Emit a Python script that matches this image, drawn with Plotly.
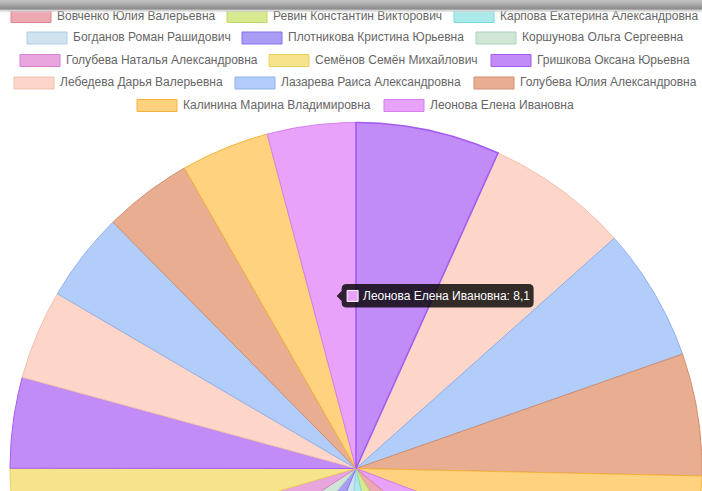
import numpy as np
import plotly.graph_objects as go

# ---- data -------------------------------------------------------------
names = [
    "Сотрудник 1", "Сотрудник 2", "Сотрудник 3",
    "Сотрудник 4", "Сотрудник 5", "Сотрудник 6",
    "Вовченко Юлия Валерьевна", "Ревин Константин Викторович",
    "Карпова Екатерина Александровна", "Богданов Роман Рашидович",
    "Плотникова Кристина Юрьевна", "Коршунова Ольга Сергеевна",
    "Голубева Наталья Александровна", "Семёнов Семён Михайлович",
    "Гришкова Оксана Юрьевна", "Лебедева Дарья Валерьевна",
    "Лазарева Раиса Александровна", "Голубева Юлия Александровна",
    "Калинина Марина Владимировна", "Леонова Елена Ивановна",
]
values = [13.2, 13.1, 12.2, 11.2, 10.6, 10.4, 10.2, 10.0, 9.8, 9.6,
          9.5, 9.3, 9.1, 8.9, 8.3, 8.2, 8.2, 8.1, 8.1, 8.1]

# colour cycle (fill, border), repeated over the slices
fill_cycle = ["#c18cf8", "#fdd6c9", "#b2cdfa", "#e9ae92", "#fed27e", "#e9a2fa",
              "#eda9b1", "#d7e98e", "#abe9ea", "#cfe2f0", "#a99cf5", "#cfe6d6",
              "#e9a5dd", "#f5e48c"]
border_cycle = ["#a45cf0", "#f2bfae", "#8fb0ee", "#d08f70", "#f4b43c", "#d57ff0",
                "#e0848f", "#c0d862", "#7fd8da", "#aecde6", "#8373ea", "#aed3bb",
                "#d77fcb", "#e9d05c"]

hovered = len(names) - 1  # slice with the open tooltip

# ---- layout constants ---------------------------------------------------
W, H = 702, 491
CX, CY, RAD = 356, 468.5, 346
FONT = "Liberation Sans, Arial, Helvetica, sans-serif"

# legend rows: slice indices, row centre y, box left x
legend_rows = [
    ([6, 7, 8], 16.5, [11, 227, 454]),
    ([9, 10, 11], 38.0, [27, 242, 476]),
    ([12, 13, 14], 60.5, [20, 269, 491]),
    ([15, 16, 17], 83.0, [14, 235, 474]),
    ([18, 19], 105.5, [137, 384]),
]

fig = go.Figure()

# ---- pie slices, clockwise from 12 o'clock -------------------------------
total = float(sum(values))
edges = np.concatenate([[0.0], np.cumsum(values)]) / total * 2 * np.pi

def slice_xy(i):
    n = max(int(np.degrees(edges[i + 1] - edges[i]) * 4), 12)
    th = np.linspace(edges[i], edges[i + 1], n)
    xs = np.concatenate([[CX], CX + RAD * np.sin(th), [CX]])
    ys = np.concatenate([[CY], CY - RAD * np.cos(th), [CY]])
    return xs, ys

order = list(range(1, len(values))) + [0]
for i in order:
    xs, ys = slice_xy(i)
    c = i % len(fill_cycle)
    fig.add_trace(go.Scatter(
        x=xs, y=ys, mode="lines", fill="toself",
        fillcolor=fill_cycle[c],
        line=dict(color=border_cycle[c], width=1.6 if i == 0 else 1),
        name=names[i], hoverinfo="skip", showlegend=False,
    ))

# ---- legend ---------------------------------------------------------------
shapes = []
lx, ly, lt = [], [], []
for idx, y, lefts in legend_rows:
    for i, x0 in zip(idx, lefts):
        c = i % len(fill_cycle)
        shapes.append(dict(type="rect", xref="x", yref="y", layer="above",
                           x0=x0, x1=x0 + 40, y0=y - 6, y1=y + 6,
                           fillcolor=fill_cycle[c],
                           line=dict(color=border_cycle[c], width=1)))
        lx.append(x0 + 46)
        ly.append(y)
        lt.append(names[i])

fig.add_trace(go.Scatter(
    x=lx, y=ly, text=lt, mode="text", textposition="middle right",
    textfont=dict(family=FONT, size=12, color="#666666"),
    hoverinfo="skip", showlegend=False,
))

# ---- tooltip of the hovered slice -----------------------------------------
mid = (edges[hovered] + edges[hovered + 1]) / 2
ax = CX + RAD / 2 * np.sin(mid)
ay = CY - RAD / 2 * np.cos(mid)
tip_y = ay - 1
bl, br = ax + 8, ax + 200
bt, bb = tip_y - 12, tip_y + 11.5
r = 5
tooltip_path = (
    f"M {bl + r},{bt} L {br - r},{bt} Q {br},{bt} {br},{bt + r} "
    f"L {br},{bb - r} Q {br},{bb} {br - r},{bb} L {bl + r},{bb} "
    f"Q {bl},{bb} {bl},{bb - r} L {bl},{tip_y + 5} L {ax + 3},{tip_y} "
    f"L {bl},{tip_y - 5} L {bl},{bt + r} Q {bl},{bt} {bl + r},{bt} Z"
)
shapes.append(dict(type="path", xref="x", yref="y", layer="above",
                   path=tooltip_path, fillcolor="rgba(0,0,0,0.8)",
                   line=dict(width=0)))
hc = hovered % len(fill_cycle)
shapes.append(dict(type="rect", xref="x", yref="y", layer="above",
                   x0=bl + 5.5, x1=bl + 16.5, y0=tip_y - 5.5, y1=tip_y + 5.5,
                   fillcolor=fill_cycle[hc],
                   line=dict(color="#ffffff", width=1)))
value_txt = f"{values[hovered]:g}".replace(".", ",")
tooltip_text = f"{names[hovered]}: {value_txt}"

# ---- header shadow strip across the top -----------------------------------
strip = ["#c2c2c2", "#bcbcbc", "#b6b6b6", "#b0b0b0", "#a9a9a9", "#a2a2a2",
         "#9b9b9b", "#949494", "#8f8f8f", "#a8a8a8", "#d6d6d6",
         "rgba(200,200,200,0.45)", "rgba(225,225,225,0.2)"]
for k, col in enumerate(strip):
    shapes.append(dict(type="rect", xref="x", yref="y", layer="above",
                       x0=0, x1=W, y0=k, y1=k + 1,
                       fillcolor=col, line=dict(width=0)))

fig.update_layout(
    width=W, height=H,
    margin=dict(l=0, r=0, t=0, b=0, pad=0),
    paper_bgcolor="white", plot_bgcolor="white",
    xaxis=dict(range=[0, W], visible=False, fixedrange=True),
    yaxis=dict(range=[H, 0], visible=False, fixedrange=True),
    showlegend=False, hovermode=False,
    shapes=shapes,
    annotations=[dict(
        x=bl + 19, y=tip_y, xref="x", yref="y", xanchor="left",
        yanchor="middle", showarrow=False, text=tooltip_text,
        font=dict(family=FONT, size=12, color="#ffffff"),
    )],
)

fig.write_html("out.html", config={"displayModeBar": False, "staticPlot": True})
